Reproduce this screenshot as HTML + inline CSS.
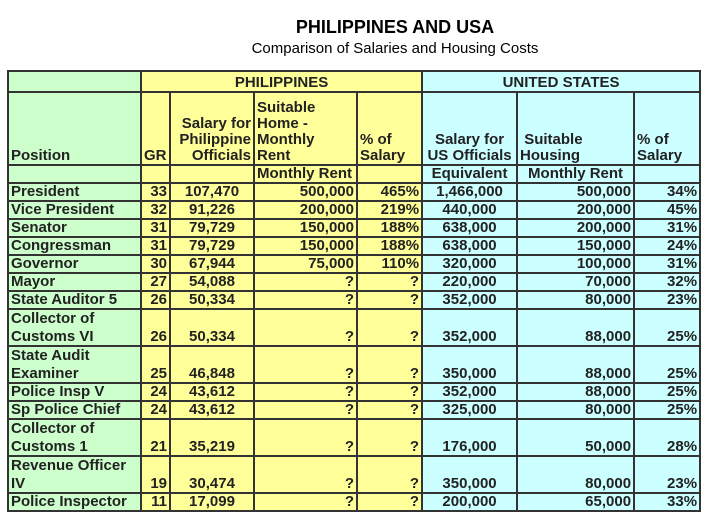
<!DOCTYPE html>
<html><head><style>
body{margin:0;width:705px;height:519px;background:#fff;font-family:"Liberation Sans",Arial,sans-serif;color:#222;position:relative;overflow:hidden}
.t1{position:absolute;left:0;width:790px;top:17px;text-align:center;font-weight:bold;font-size:18px;color:#000}
.t2{position:absolute;left:0;width:790px;top:40px;text-align:center;font-size:15px;color:#000}
table{position:absolute;left:7px;top:70px;border-collapse:collapse;table-layout:fixed;width:692px;font-weight:bold;font-size:15px;line-height:16px}
td{border:2px solid #333;padding:0 2px;vertical-align:bottom;white-space:nowrap;overflow:hidden}
.g{background:#ccffcc}.y{background:#ffff99}.c{background:#ccffff}
.r{text-align:right}.ce{text-align:center}
tr.d td{height:15.3px}
tr.d2 td{height:34.4px;line-height:17.5px}
</style></head><body>
<div class="t1">PHILIPPINES AND USA</div>
<div class="t2">Comparison of Salaries and Housing Costs</div>
<table>
<colgroup><col style="width:133px"><col style="width:29px"><col style="width:84px"><col style="width:103px"><col style="width:65px"><col style="width:95px"><col style="width:117px"><col style="width:66px"></colgroup>
<tr style="height:21px"><td class="g"></td><td class="y ce" colspan="4">PHILIPPINES</td><td class="c ce" colspan="3">UNITED STATES</td></tr>
<tr style="height:73px"><td class="g">Position</td><td class="y">GR</td><td class="y r">Salary for<br>Philippine<br>Officials</td><td class="y">Suitable<br>Home -<br>Monthly<br>Rent</td><td class="y">% of<br>Salary</td><td class="c ce">Salary for<br>US Officials</td><td class="c">&nbsp;Suitable<br>Housing</td><td class="c">% of<br>Salary</td></tr>
<tr class="d"><td class="g"></td><td class="y"></td><td class="y"></td><td class="y">Monthly Rent</td><td class="y"></td><td class="c ce">Equivalent</td><td class="c ce">Monthly Rent</td><td class="c"></td></tr>
<tr class="d"><td class="g">President</td><td class="y r">33</td><td class="y ce">107,470</td><td class="y r">500,000</td><td class="y r">465%</td><td class="c ce">1,466,000</td><td class="c r">500,000</td><td class="c r">34%</td></tr>
<tr class="d"><td class="g">Vice President</td><td class="y r">32</td><td class="y ce">91,226</td><td class="y r">200,000</td><td class="y r">219%</td><td class="c ce">440,000</td><td class="c r">200,000</td><td class="c r">45%</td></tr>
<tr class="d"><td class="g">Senator</td><td class="y r">31</td><td class="y ce">79,729</td><td class="y r">150,000</td><td class="y r">188%</td><td class="c ce">638,000</td><td class="c r">200,000</td><td class="c r">31%</td></tr>
<tr class="d"><td class="g">Congressman</td><td class="y r">31</td><td class="y ce">79,729</td><td class="y r">150,000</td><td class="y r">188%</td><td class="c ce">638,000</td><td class="c r">150,000</td><td class="c r">24%</td></tr>
<tr class="d"><td class="g">Governor</td><td class="y r">30</td><td class="y ce">67,944</td><td class="y r">75,000</td><td class="y r">110%</td><td class="c ce">320,000</td><td class="c r">100,000</td><td class="c r">31%</td></tr>
<tr class="d"><td class="g">Mayor</td><td class="y r">27</td><td class="y ce">54,088</td><td class="y r">?</td><td class="y r">?</td><td class="c ce">220,000</td><td class="c r">70,000</td><td class="c r">32%</td></tr>
<tr class="d"><td class="g">State Auditor 5</td><td class="y r">26</td><td class="y ce">50,334</td><td class="y r">?</td><td class="y r">?</td><td class="c ce">352,000</td><td class="c r">80,000</td><td class="c r">23%</td></tr>
<tr class="d2"><td class="g">Collector of<br>Customs VI</td><td class="y r">26</td><td class="y ce">50,334</td><td class="y r">?</td><td class="y r">?</td><td class="c ce">352,000</td><td class="c r">88,000</td><td class="c r">25%</td></tr>
<tr class="d2"><td class="g">State Audit<br>Examiner</td><td class="y r">25</td><td class="y ce">46,848</td><td class="y r">?</td><td class="y r">?</td><td class="c ce">350,000</td><td class="c r">88,000</td><td class="c r">25%</td></tr>
<tr class="d"><td class="g">Police Insp V</td><td class="y r">24</td><td class="y ce">43,612</td><td class="y r">?</td><td class="y r">?</td><td class="c ce">352,000</td><td class="c r">88,000</td><td class="c r">25%</td></tr>
<tr class="d"><td class="g">Sp Police Chief</td><td class="y r">24</td><td class="y ce">43,612</td><td class="y r">?</td><td class="y r">?</td><td class="c ce">325,000</td><td class="c r">80,000</td><td class="c r">25%</td></tr>
<tr class="d2"><td class="g">Collector of<br>Customs 1</td><td class="y r">21</td><td class="y ce">35,219</td><td class="y r">?</td><td class="y r">?</td><td class="c ce">176,000</td><td class="c r">50,000</td><td class="c r">28%</td></tr>
<tr class="d2"><td class="g">Revenue Officer<br>IV</td><td class="y r">19</td><td class="y ce">30,474</td><td class="y r">?</td><td class="y r">?</td><td class="c ce">350,000</td><td class="c r">80,000</td><td class="c r">23%</td></tr>
<tr class="d"><td class="g">Police Inspector</td><td class="y r">11</td><td class="y ce">17,099</td><td class="y r">?</td><td class="y r">?</td><td class="c ce">200,000</td><td class="c r">65,000</td><td class="c r">33%</td></tr>
</table>
</body></html>
